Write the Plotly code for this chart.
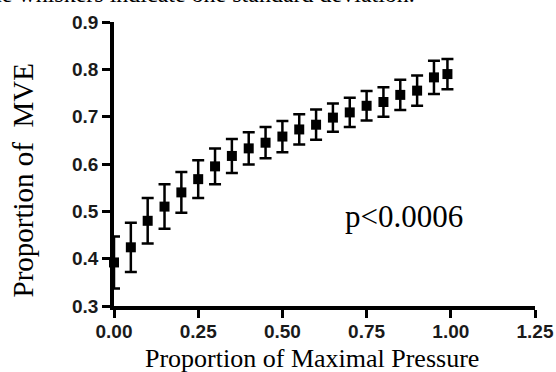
import plotly.graph_objects as go

# Data
pressure = [0.00, 0.05, 0.10, 0.15, 0.20, 0.25, 0.30, 0.35, 0.40, 0.45, 0.50,
            0.55, 0.60, 0.65, 0.70, 0.75, 0.80, 0.85, 0.90, 0.95, 0.99]
mve = [0.392, 0.424, 0.480, 0.510, 0.540, 0.568, 0.595, 0.617, 0.633, 0.645, 0.658,
       0.673, 0.683, 0.698, 0.709, 0.723, 0.731, 0.746, 0.755, 0.783, 0.790]
sd = [0.055, 0.052, 0.048, 0.047, 0.043, 0.040, 0.038, 0.036, 0.034, 0.033, 0.033,
      0.032, 0.032, 0.030, 0.031, 0.031, 0.031, 0.032, 0.032, 0.035, 0.032]

x_ticks = [0.00, 0.25, 0.50, 0.75, 1.00, 1.25]
x_tick_labels = ["0.00", "0.25", "0.50", "0.75", "1.00", "1.25"]
y_ticks = [0.3, 0.4, 0.5, 0.6, 0.7, 0.8, 0.9]
y_tick_labels = ["0.3", "0.4", "0.5", "0.6", "0.7", "0.8", "0.9"]

# Body margin is removed in post_script, so the figure sits at the page corner.
W, H = 556, 372
L, T = 114, 22
pw, ph = 421, 284
R = W - L - pw
B = H - T - ph

def px(x):  # page pixel -> paper x
    return (x - L) / pw

def py(y):  # page pixel -> paper y
    return (T + ph - y) / ph

fig = go.Figure()
fig.add_trace(go.Scatter(
    x=pressure, y=mve, mode="markers",
    marker=dict(symbol="square", size=10, color="black"),
    error_y=dict(type="data", array=sd, visible=True, color="black",
                 thickness=2.5, width=6),
    cliponaxis=False, showlegend=False, hoverinfo="skip",
))

tickfont = dict(family="Arial", size=19, color="#1a1a1a", weight="bold")
fig.update_xaxes(range=[0, 1.25], tickvals=x_ticks, ticktext=x_tick_labels,
                 showline=True, linecolor="black", linewidth=3.5,
                 ticks="outside", ticklen=8, tickwidth=3, tickcolor="black",
                 ticklabelstandoff=-3, automargin=False,
                 showgrid=False, zeroline=False, tickfont=tickfont)
fig.update_yaxes(range=[0.3, 0.9], tickvals=y_ticks, ticktext=y_tick_labels,
                 showline=True, linecolor="black", linewidth=3.5,
                 ticks="outside", ticklen=8, tickwidth=3, tickcolor="black",
                 ticklabelstandoff=0, automargin=False,
                 showgrid=False, zeroline=False, tickfont=tickfont)

serif = "Liberation Serif"
fig.add_annotation(text="Proportion of Maximal Pressure", x=px(312), y=py(368),
                   xref="paper", yref="paper", showarrow=False,
                   xanchor="center", yanchor="bottom", yshift=-7,
                   font=dict(family=serif, size=26, color="black"))
fig.add_annotation(text="Proportion of  MVE", x=px(33), y=py(180.5),
                   xref="paper", yref="paper", showarrow=False, textangle=-90,
                   xanchor="right", yanchor="middle", xshift=7,
                   font=dict(family=serif, size=29, color="black"))
fig.add_annotation(text="p<0.0006", x=px(404), y=py(216),
                   xref="paper", yref="paper", showarrow=False,
                   xanchor="center", yanchor="middle",
                   font=dict(family=serif, size=31, color="black"))
fig.add_annotation(text="The whiskers indicate one standard deviation.", x=px(-27), y=py(3.5),
                   xref="paper", yref="paper", showarrow=False,
                   xanchor="left", yanchor="bottom", yshift=-6,
                   font=dict(family=serif, size=24, color="black"))

fig.update_layout(width=W, height=H, margin=dict(l=L, r=R, t=T, b=B),
                  plot_bgcolor="white", paper_bgcolor="white")

fig.write_html("out.html", config={"displayModeBar": False},
               post_script="document.body.style.margin='0';")
